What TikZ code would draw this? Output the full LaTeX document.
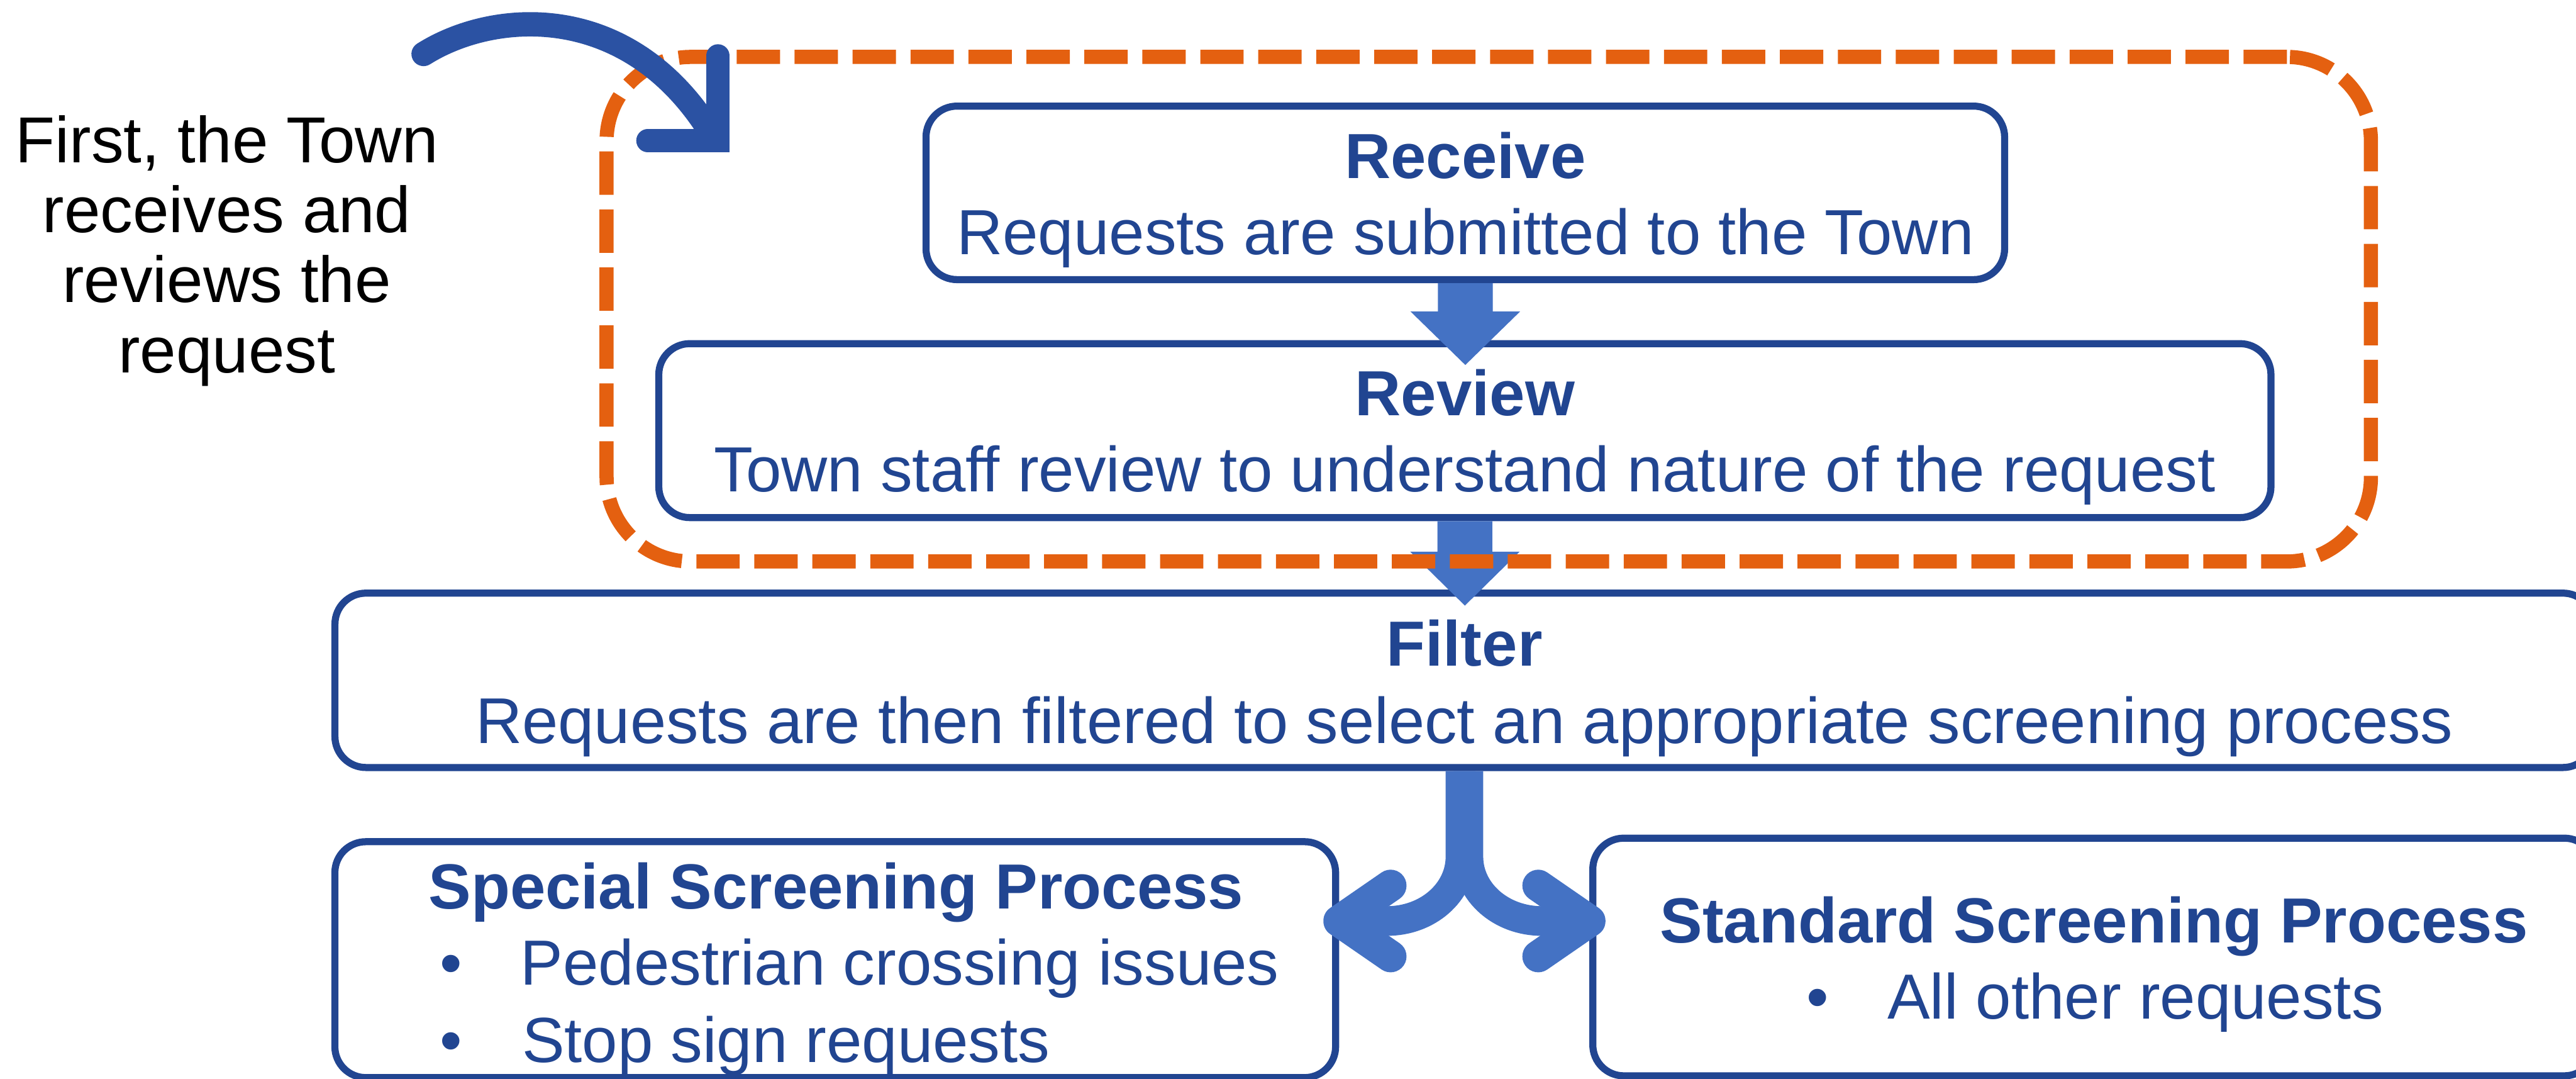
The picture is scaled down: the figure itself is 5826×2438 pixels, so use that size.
\documentclass[tikz,border=0pt]{standalone}
\usepackage{fontspec}
\setmainfont{Liberation Sans}
\usetikzlibrary{calc}
\definecolor{boxblue}{RGB}{33,69,145}
\definecolor{flowblue}{RGB}{68,114,196}
\definecolor{pointerblue}{RGB}{43,82,163}
\definecolor{frameorange}{RGB}{228,96,16}

\begin{document}
\begin{tikzpicture}[x=0.01cm, y=-0.01cm,
  stagebox/.style={draw=boxblue, line width=0.16cm, rounded corners=0.7cm,
    fill=white, inner sep=0pt, outer sep=0pt},
  headtext/.style={anchor=base, inner sep=0pt, text=boxblue,
    font=\fontsize{41pt}{48pt}\selectfont\bfseries},
  bodytext/.style={anchor=base, inner sep=0pt, text=boxblue,
    font=\fontsize{41pt}{48pt}\selectfont},
  widebody/.style={bodytext, font=\fontsize{41.6pt}{48pt}\selectfont},
  notetext/.style={anchor=base, inner sep=0pt, text=black,
    font=\fontsize{41.8pt}{47pt}\selectfont},
  blockarrow/.style={fill=flowblue, draw=none},
  forkshaft/.style={draw=flowblue, line width=0.67cm, line cap=butt},
  forkhead/.style={draw=flowblue, line width=0.72cm, line cap=round, line join=round},
]
\useasboundingbox (0,0) rectangle (5826,2438);
\clip (0,0) rectangle (5826,2438);

% ---------- stage boxes ----------
\node[stagebox, minimum width=24.38cm, minimum height=3.92cm] (receive) at (3314,436) {};
\node[stagebox, minimum width=36.44cm, minimum height=3.93cm] (review) at (3313,973.5) {};
\node[stagebox, minimum width=51.06cm, minimum height=3.94cm] (filter) at (3312,1538) {};
\node[stagebox, minimum width=22.62cm, minimum height=5.33cm] (special) at (1889,2169.5) {};
\node[stagebox, minimum width=22.66cm, minimum height=5.37cm] (standard) at (4736,2163.5) {};

% ---------- block arrows between stages ----------
\fill[blockarrow]
  ($(receive.south)+(-62,8)$) -- ($(receive.south)+(-62,72)$) -- ($(receive.south)+(-124,72)$)
  -- ($(receive.south)+(0,193)$)
  -- ($(receive.south)+(124,72)$) -- ($(receive.south)+(62,72)$) -- ($(receive.south)+(62,8)$) -- cycle;
\fill[blockarrow]
  ($(review.south)+(-62,8)$) -- ($(review.south)+(-62,77)$) -- ($(review.south)+(-124,77)$)
  -- ($(review.south)+(0,199)$)
  -- ($(review.south)+(124,77)$) -- ($(review.south)+(62,77)$) -- ($(review.south)+(62,8)$) -- cycle;

% ---------- dashed frame around receive and review ----------
\node[draw=frameorange, line width=0.32cm, dash pattern=on 0.98cm off 0.33cm,
      rounded corners=1.9cm, minimum width=39.88cm, minimum height=11.40cm,
      inner sep=0pt, outer sep=0pt] (stageframe) at (3367,699) {};

% ---------- forked arrow from filter to the two screening processes ----------
\coordinate (fork) at (filter.south);
\draw[forkshaft] ($(fork)+(-9,8)$) -- ($(fork)+(-9,202)$)
  .. controls ($(fork)+(-9,282)$) and ($(fork)+(-83,347)$) .. ($(fork)+(-175,347)$)
  -- ($(fork)+(-272,347)$);
\draw[forkshaft] ($(fork)+(9,8)$) -- ($(fork)+(9,202)$)
  .. controls ($(fork)+(9,282)$) and ($(fork)+(83,347)$) .. ($(fork)+(175,347)$)
  -- ($(fork)+(272,347)$);
\draw[forkhead] ($(fork)+(-167,267)$) -- ($(fork)+(-283,347)$) -- ($(fork)+(-167,427)$);
\draw[forkhead] ($(fork)+(167,267)$) -- ($(fork)+(283,347)$) -- ($(fork)+(167,427)$);

% ---------- curved pointer from the note into the frame ----------
\coordinate (pointer-tail) at (958,122);
\coordinate (pointer-tip) at (1624,318);
\draw[pointerblue, line width=0.55cm, line cap=round]
  (pointer-tail) .. controls (1120,20) and (1430,0) .. (1615,312);
\draw[pointerblue, line width=0.52cm, line cap=round, line join=miter]
  (1624,126) -- (pointer-tip) -- (1465,318);

% ---------- note on the left ----------
\node[notetext] (note1) at (513,367) {First, the Town};
\node[notetext] (note2) at (513,526) {receives and};
\node[notetext] (note3) at (513,683) {reviews the};
\node[notetext] (note4) at (513,843) {request};

% ---------- box texts ----------
\node[headtext] (receive-head) at (3314,403) {Receive};
\node[bodytext] (receive-body) at (3314,576) {Requests are submitted to the Town};

\node[headtext] (review-head) at (3313,940) {Review};
\node[bodytext] (review-body) at (3313,1112) {Town staff review to understand nature of the request};

\node[headtext] (filter-head) at (3312,1505) {Filter};
\node[widebody] (filter-body) at (3312,1680) {Requests are then filtered to select an appropriate screening process};

\node[headtext] (special-head) at (1891,2054) {Special Screening Process};
\node[bodytext] (special-dot1) at (1020,2227) {•};
\node[bodytext, anchor=base west] (special-item1) at (1177,2227) {Pedestrian crossing issues};
\node[bodytext] (special-dot2) at (1020,2401) {•};
\node[bodytext, anchor=base west] (special-item2) at (1180,2401) {Stop sign requests};

\node[headtext] (standard-head) at (4736,2131) {Standard Screening Process};
\node[bodytext] (standard-dot) at (4111,2304) {•};
\node[bodytext, anchor=base west] (standard-item) at (4268,2304) {All other requests};

\end{tikzpicture}
\end{document}
